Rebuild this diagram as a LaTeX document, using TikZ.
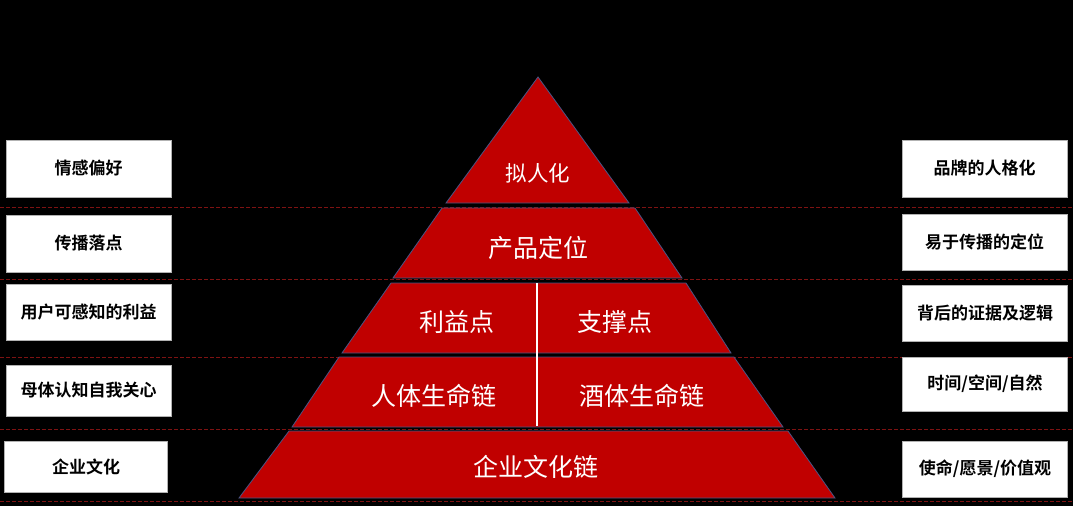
\documentclass[tikz,border=0pt]{standalone}
\usepackage{fontspec}
\setmainfont{Noto Sans CJK SC}
\newfontfamily\cjk{Noto Sans CJK SC}
\newfontfamily\cjkbold{Noto Sans CJK SC Bold}
\definecolor{pyrred}{HTML}{C00000}
\definecolor{pyredge}{HTML}{4A5585}
\definecolor{dashred}{HTML}{7E1212}
\tikzset{
  layer/.style={fill=pyrred, draw=pyredge, line width=0.8pt, line join=miter},
  sidebox/.style={fill=white, draw=gray!60, line width=0.6pt, minimum width=165pt, minimum height=57pt, inner sep=0pt, font=\cjkbold\fontsize{17}{19}\selectfont, text=black},
  pyrtext/.style={text=white, font=\cjk\fontsize{25}{27}\selectfont, inner sep=0pt},
  rowline/.style={draw=dashred, line width=0.9pt, dash pattern=on 4pt off 2pt},
  divider/.style={draw=white, line width=2.4pt}
}
\begin{document}
\begin{tikzpicture}[x=1pt,y=-1pt]
\useasboundingbox (0,0) rectangle (1073,506);
\fill[black] (0,0) rectangle (1073,506);
% dashed row lines
\foreach \yy in {207,279,357,429,501} {\draw[rowline] (0,\yy) -- (1073,\yy);}
% pyramid layers
\draw[layer] (538,77) -- (629,203) -- (446,203) -- cycle;
\draw[layer] (442,208) -- (635,208) -- (682,278) -- (393,278) -- cycle;
\draw[layer] (391,283) -- (686,283) -- (731,353) -- (342,353) -- cycle;
\draw[layer] (339,357) -- (734,357) -- (783,427) -- (292,427) -- cycle;
\draw[layer] (289,431) -- (788,431) -- (835,498) -- (239,498) -- cycle;
% divider
\coordinate (dtop) at (537,283);
\coordinate (dbot) at (537,426);
\draw[divider] (dtop) -- (dbot);
% pyramid texts
\node[pyrtext, font=\cjk\fontsize{21.5}{23}\selectfont] (t1) at (538,173) {拟人化};
\node[pyrtext] (t2) at (538,248) {产品定位};
\node[pyrtext] (t3a) at (457,322) {利益点};
\node[pyrtext] (t3b) at (615,322) {支撑点};
\node[pyrtext] (t4a) at (434,396) {人体生命链};
\node[pyrtext] (t4b) at (642,396) {酒体生命链};
\node[pyrtext] (t5) at (536,467) {企业文化链};
% left boxes
\node[sidebox] (l1) at (88.5,168.5) {情感偏好};
\node[sidebox] (l2) at (88.5,243.5) {传播落点};
\node[sidebox, minimum height=56pt] (l3) at (88.5,312) {用户可感知的利益};
\node[sidebox, minimum height=51pt] (l4) at (88.5,390.5) {母体认知自我关心};
\node[sidebox, minimum width=163pt, minimum height=51pt] (l5) at (86,466.5) {企业文化};
% right boxes
\node[sidebox] (r1) at (984.5,168.5) {品牌的人格化};
\node[sidebox, minimum height=56pt] (r2) at (984.5,242) {易于传播的定位};
\node[sidebox, minimum height=56pt] (r3) at (985,313) {背后的证据及逻辑};
\node[sidebox, minimum height=54pt] (r4) at (985,384) {时间/空间/自然};
\node[sidebox, minimum height=56pt] (r5) at (985,469) {使命/愿景/价值观};
\end{tikzpicture}
\end{document}
